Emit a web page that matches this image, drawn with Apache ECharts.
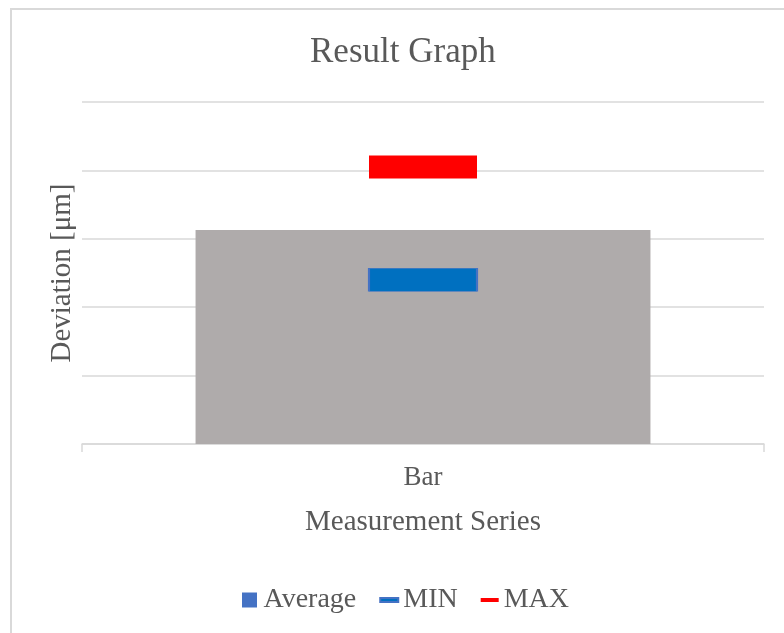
<!DOCTYPE html>
<html>
<head>
<meta charset="utf-8">
<script src="https://cdn.jsdelivr.net/npm/echarts@6/dist/echarts.min.js"></script>
<style>
  html, body { margin: 0; padding: 0; background: #fff; }
  #main { width: 784px; height: 633px; }
</style>
</head>
<body>
<div id="main"></div>
<script>
// data
const categories = ['Bar'];
const averageValues = [3.13];
const minValues = [2.40];
const maxValues = [4.05];
const yTicks = { min: 0, max: 5, step: 1 };

const textColor = '#595959';
const gridColor = '#d9d9d9';
const font = 'Liberation Serif, Times New Roman, serif';

const chart = echarts.init(document.getElementById('main'));

const option = {
  backgroundColor: '#fff',
  textStyle: { fontFamily: font },
  graphic: [{
    type: 'rect',
    shape: { x: 11, y: 9, width: 820, height: 700 },
    style: { fill: 'none', stroke: gridColor, lineWidth: 2 },
    silent: true
  }],
  title: {
    text: 'Result Graph',
    left: 305,
    top: 30,
    textStyle: { fontFamily: font, fontSize: 35, fontWeight: 'normal', color: textColor }
  },
  legend: {
    left: 237,
    top: 581,
    itemWidth: 18,
    itemHeight: 15,
    itemGap: 23,
    textStyle: { fontFamily: font, fontSize: 28, color: textColor },
    data: [
      { name: 'Average', icon: 'path://M0,0 L15,0 L15,15 L0,15 Z', itemStyle: { color: '#4472C4' } },
      { name: 'MIN', icon: 'path://M0,0 L18,0 L18,4 L0,4 Z', itemStyle: { color: '#0070C0' } },
      { name: 'MAX', icon: 'path://M0,0 L18,0 L18,4 L0,4 Z', itemStyle: { color: '#FF0000' } }
    ]
  },
  grid: { left: 82, right: 20, top: 102, bottom: 189 },
  xAxis: {
    type: 'category',
    data: categories,
    name: 'Measurement Series',
    nameLocation: 'middle',
    nameGap: 64,
    nameTextStyle: { fontFamily: font, fontSize: 29, color: textColor },
    axisLine: { lineStyle: { color: gridColor, width: 1.5 } },
    axisTick: { show: true, length: 8, lineStyle: { color: gridColor, width: 1.5 } },
    axisLabel: { margin: 20, fontFamily: font, fontSize: 27, color: textColor }
  },
  yAxis: {
    type: 'value',
    min: yTicks.min,
    max: yTicks.max,
    interval: yTicks.step,
    name: 'Deviation [μm]',
    nameLocation: 'middle',
    nameRotate: 90,
    nameGap: 5,
    nameTextStyle: { fontFamily: font, fontSize: 29, color: textColor },
    axisLine: { show: false },
    axisTick: { show: false },
    axisLabel: { show: false },
    splitLine: { lineStyle: { color: gridColor, width: 1.5 } }
  },
  series: [
    {
      name: 'Average',
      type: 'bar',
      data: averageValues,
      barWidth: '66.7%',
      itemStyle: { color: '#AFABAB' },
      silent: true
    },
    {
      name: 'MIN',
      type: 'scatter',
      data: minValues,
      symbol: 'rect',
      symbolSize: [108, 23],
      itemStyle: { color: '#0070C0', borderColor: '#4472C4', borderWidth: 1, opacity: 1 },
      z: 5
    },
    {
      name: 'MAX',
      type: 'scatter',
      data: maxValues,
      symbol: 'rect',
      symbolSize: [108, 23],
      itemStyle: { color: '#FF0000', opacity: 1 },
      z: 5
    }
  ]
};

chart.setOption(option);
</script>
</body>
</html>
